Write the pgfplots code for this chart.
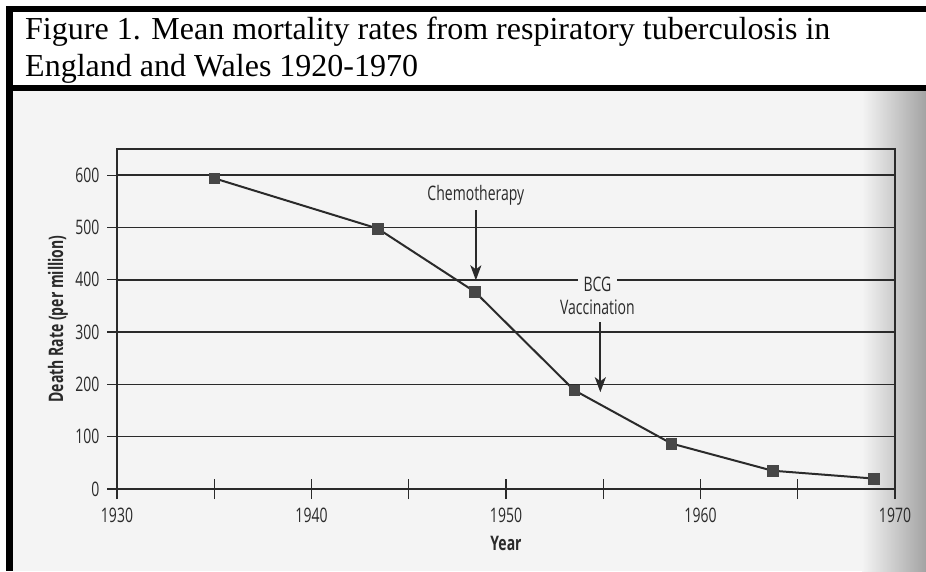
\documentclass[border=0pt]{standalone}
\usepackage{pgfplots}
\pgfplotsset{compat=1.18}
\usepackage{fontspec}
\setmainfont{Liberation Serif}
\newfontfamily\chartfont[FakeStretch=0.7]{Open Sans}
\usetikzlibrary{arrows.meta}
\definecolor{bgg}{HTML}{F4F4F4}
\definecolor{ink}{HTML}{2A2A2A}
\definecolor{mk}{HTML}{474747}
\newcommand{\cf}{\chartfont\fontsize{20}{23}\selectfont}

\begin{document}
\begin{tikzpicture}[x=1pt,y=1pt]
\useasboundingbox (0,0) rectangle (926,571);
\fill[white] (0,0) rectangle (926,571);
\fill[bgg] (13,0) rectangle (926,480);
\shade[left color=bgg, right color=black!36] (862,0) rectangle (926,480);
\fill[black] (6,559) rectangle (926,565);
\fill[black] (6,480) rectangle (926,486);
\fill[black] (6,0) rectangle (13,565);
\node[anchor=base west, font=\fontsize{32}{38}\selectfont, inner sep=0] at (25,531) {Figure 1. Mean mortality rates from respiratory tuberculosis in};
\node[anchor=base west, font=\fontsize{32}{38}\selectfont, inner sep=0] at (25,494) {England and Wales 1920-1970};

\begin{axis}[
  at={(117pt,82pt)}, anchor=south west,
  width=778pt, height=340pt, scale only axis,
  xmin=1930, xmax=1970, ymin=0, ymax=650,
  xtick={1930,1940,1950,1960,1970},
  xticklabels={1930,1940,1950,1960,1970},
  minor xtick={1935,1945,1955,1965},
  ytick={0,100,200,300,400,500,600},
  tick pos=left,
  tick align=center,
  major tick length=20pt, minor tick length=20pt,
  axis line style={ink, line width=1.5pt},
  ymajorgrids, grid style={ink, line width=1.5pt},
  every tick/.style={ink, line width=1.3pt},
  minor tick style={ink, line width=1.3pt},
  /pgf/number format/assume math mode=true,
  every tick label/.append style={font=\cf, text=ink},
  xticklabel style={anchor=north, yshift=-5pt},
  yticklabel style={anchor=east, xshift=-4pt},
  xlabel={Year}, ylabel={Death Rate (per million)},
  label style={font=\cf\bfseries, text=ink},
  xlabel style={at={(axis description cs:0.5,-0.159)}, anchor=center},
  ylabel style={at={(axis description cs:-0.0758,0.5)}, anchor=center},
  clip=false,
]
\addplot[ink, line width=2pt, mark=square*, mark size=5.3pt,
  mark options={fill=mk, draw=mk, line width=0.5pt}]
  coordinates {(1935,594) (1943.4,498) (1948.4,377) (1953.5,189) (1958.5,87) (1963.7,35) (1968.9,20)};
\draw[ink, line width=2pt, -{Stealth[length=15pt,width=11pt,inset=4pt]}]
  (axis cs:1948.45,533) -- (axis cs:1948.45,399);
\node[font=\cf, text=ink] at (axis cs:1948.45,562) {Chemotherapy};
\node[font=\cf, text=ink, fill=bgg, inner xsep=6pt, inner ysep=2pt] at (axis cs:1954.7,391) {BCG};
\node[font=\cf, text=ink] at (axis cs:1954.7,348) {Vaccination};
\draw[ink, line width=2pt, -{Stealth[length=15pt,width=11pt,inset=4pt]}]
  (axis cs:1954.85,319) -- (axis cs:1954.85,185);
\end{axis}
\end{tikzpicture}
\end{document}
